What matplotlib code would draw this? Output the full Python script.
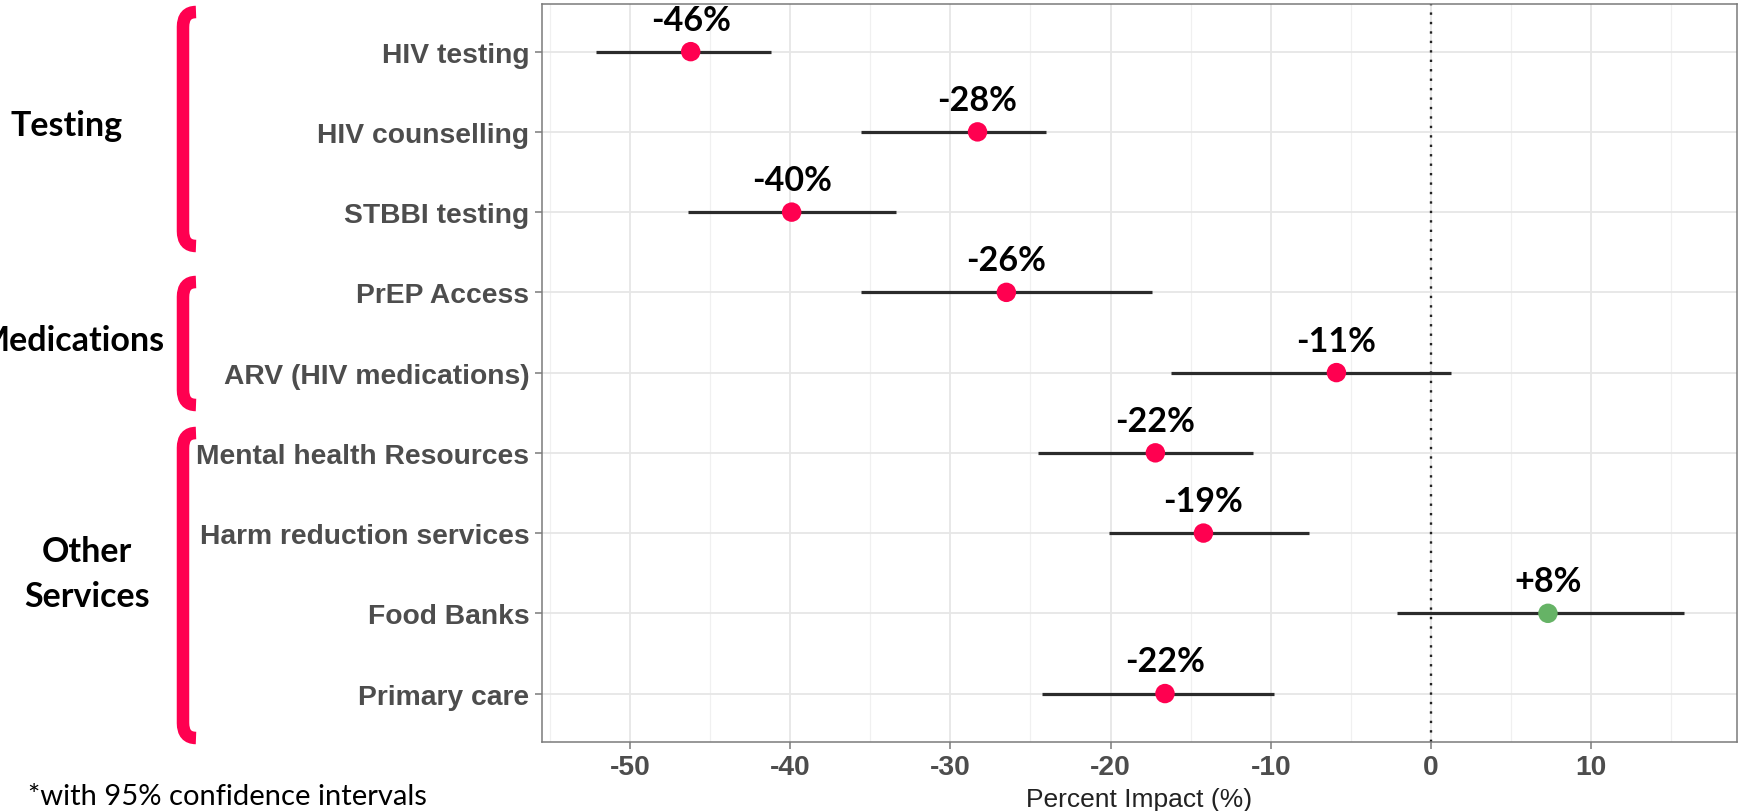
import matplotlib
matplotlib.use("Agg")
import matplotlib.pyplot as plt
from matplotlib.path import Path
from matplotlib.patches import PathPatch
from matplotlib.ticker import MultipleLocator

plt.rcParams["axes.unicode_minus"] = False

# ---- data ----
categories = ["HIV testing", "HIV counselling", "STBBI testing", "PrEP Access",
              "ARV (HIV medications)", "Mental health Resources",
              "Harm reduction services", "Food Banks", "Primary care"]
estimate = [-46.2, -28.3, -39.9, -26.5, -5.9, -17.2, -14.2, 7.3, -16.6]
lower = [-52.1, -35.6, -46.4, -35.6, -16.2, -24.5, -20.1, -2.1, -24.3]
upper = [-41.2, -24.0, -33.4, -17.4, 1.25, -11.1, -7.6, 15.8, -9.8]
value_labels = ["-46%", "-28%", "-40%", "-26%", "-11%", "-22%", "-19%", "+8%", "-22%"]
groups = ["Testing", "Medications", "Other\nServices"]
x_ticks = [-50, -40, -30, -20, -10, 0, 10]
x_label = "Percent Impact (%)"
footnote = "*with 95% confidence intervals"

W, H = 1744, 812
fig = plt.figure(figsize=(W / 100, H / 100), dpi=100)
ax = fig.add_axes([541.7 / W, 1 - 742.7 / H, (1737 - 541.7) / W, (742.7 - 4.5) / H])

ypos = list(range(1, len(categories) + 1))
RED = "#FF0050"
GREEN = "#66B366"

ax.set_xlim(-55.5, 19.1)
ax.set_ylim(9.6, 0.4)
ax.xaxis.set_major_locator(MultipleLocator(10))
ax.xaxis.set_minor_locator(MultipleLocator(5))
ax.set_xticks(x_ticks)
ax.set_xticklabels([str(t) for t in x_ticks])
ax.set_yticks(ypos)
ax.set_yticklabels(categories)
ax.grid(which="major", color="#E6E6E6", linewidth=1.3)
ax.grid(which="minor", axis="x", color="#F0F0F0", linewidth=0.9)
ax.set_axisbelow(True)
for s in ax.spines.values():
    s.set_color("#7A7A7A")
    s.set_linewidth(1.1)

ax.tick_params(axis="both", which="major", length=5, width=1.1, color="#7A7A7A",
               labelcolor="#4D4D4D", pad=4)
ax.tick_params(axis="x", which="minor", length=0)
for lab in ax.get_xticklabels() + ax.get_yticklabels():
    lab.set_fontfamily("Liberation Sans")
    lab.set_fontweight("bold")
    lab.set_fontsize(20.3)

ax.axvline(0, color="#222222", linewidth=1.7, linestyle=(0, (1, 3)), zorder=2)

ax.hlines(ypos, lower, upper, color="#2B2B2B", linewidth=2.3, zorder=3)
colors = [GREEN if e > 0 else RED for e in estimate]
ax.scatter(estimate, ypos, s=14 ** 2, c=colors, zorder=4, linewidths=0)

for e, y, t in zip(estimate, ypos, value_labels):
    ax.text(e, y - 0.4, t, ha="center", va="center", fontsize=24.5,
            fontfamily="Lato", fontweight="bold", color="black", zorder=5)

ax.set_xlabel(x_label, fontfamily="Liberation Sans", fontsize=19, color="#222222",
              labelpad=5)

# ---- group brackets (figure pixel coordinates) ----
def fx(px):
    return px / W

def fy(py):
    return 1 - py / H

def bracket(top, bottom, x=183, tip=196, r=15):
    verts = [(tip, top), (x, top), (x, top + r),
             (x, bottom - r), (x, bottom), (tip, bottom)]
    codes = [Path.MOVETO, Path.CURVE3, Path.CURVE3,
             Path.LINETO, Path.CURVE3, Path.CURVE3]
    verts = [(fx(a), fy(b)) for a, b in verts]
    p = PathPatch(Path(verts, codes), transform=fig.transFigure, fill=False,
                  edgecolor=RED, linewidth=9, capstyle="butt")
    fig.add_artist(p)

bracket(13, 247)
bracket(283, 406)
bracket(434, 739)

fig.text(fx(67), fy(126), groups[0], ha="center", va="center", fontsize=24.5,
         fontfamily="Lato", fontweight="bold", color="black")
fig.text(fx(164), fy(341), groups[1], ha="right", va="center", fontsize=24.5,
         fontfamily="Lato", fontweight="bold", color="black")
fig.text(fx(87), fy(575), groups[2], ha="center", va="center", fontsize=24.5,
         fontfamily="Lato", fontweight="bold", color="black", linespacing=1.5)

fig.text(fx(28), fy(797), footnote, ha="left", va="center", fontsize=21,
         fontfamily="Lato", color="black")

fig.savefig("out.png", dpi=100)
